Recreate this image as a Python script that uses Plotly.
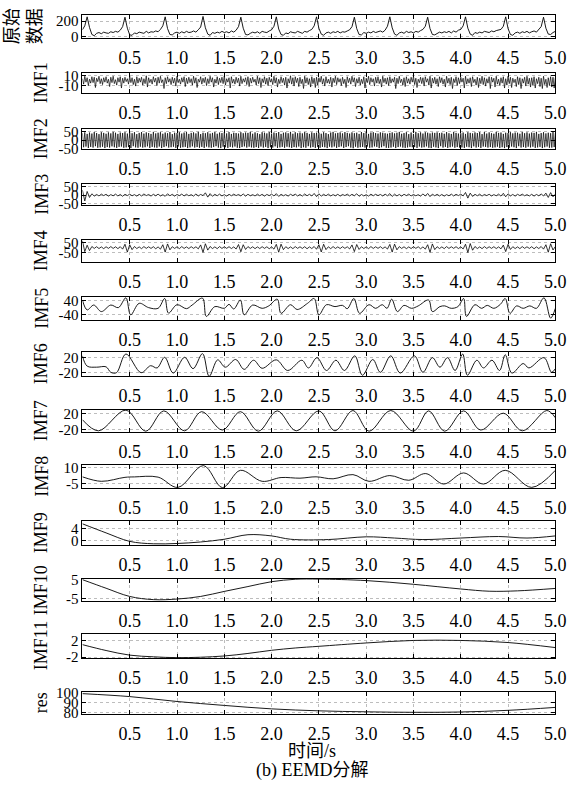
import numpy as np
import plotly.graph_objects as go

# ---------------- data ----------------
orig = [90,140,255,120,30,15,45,55,40,60, 50,45,65,55,70,60,85,130,250,110,
        25,20,50,40,60,55,45,70,50,65, 60,75,65,95,140,255,105,30,25,50,
        60,45,65,50,70,55,60,75,60,90, 125,260,115,35,20,55,45,60,50,70,
        55,65,50,75,60,85,130,250,110,30, 25,45,60,50,65,45,70,60,55,75,
        90,135,255,100,30,20,50,40,65,55, 50,70,60,45,70,60,80,95,140,255,
        110,35,20,50,60,45,65,55,70,50, 65,60,75,90,130,250,105,30,25,55,
        45,60,50,70,55,65,75,60,85,135, 255,115,35,20,50,60,45,70,55,65,
        50,70,60,80,95,135,250,105,30,25, 45,60,50,65,55,70,50,75,60,85,
        95,140,255,110,35,20,55,45,60,50, 70,60,55,75,65,80,90,95,135,255,
        105,30,20,50,60,45,65,55,70,50, 65,75,60,90,130,250,110,35,30,55,
        70]

imf1 = [4,-7,9,-3,6,-10,3,-5,8,-4,7,-14,5,-2,9,-6,4,-8,6,-3,
        8,-5,3,-12,7,-4,9,-6,2,-9,6,-3,8,-15,5,-5,7,-2,4,-7,
        9,-4,6,-8,3,-11,8,-5,5,-3,7,-9,4,-6,10,-13,6,-4,3,-7,
        8,-3,5,-10,7,-5,9,-4,2,-16,6,-6,8,-3,4,-8,7,-5,5,-11,
        9,-4,3,-7,6,-3,8,-12,5,-6,7,-4,4,-9,9,-5,6,-14,3,-3,
        8,-7,5,-4,7,-10,4,-6,9,-3,6,-13,3,-5,8,-8,5,-4,7,-6,
        10,-9,4,-3,6,-15,8,-5,3,-7,7,-4,5,-11,9,-6,4,-3,6,-8,
        8,-12,5,-5,7,-3,3,-9,9,-6,6,-14,4,-4,8,-7,5,-10,7,-3,
        4,-8,9,-5,6,-13,3,-6,8,-4,5,-9,7,-15,4,-5,10,-7,6,-11,
        8,-4,5,-12,7,-6,3,-16,9,-5,6,-8,4,-13,8,-6,5,-14,7,-9,
        6,-3,9,-7,4,-11,8,-5,3,-6,7,-13,5,-4,9,-8,6,-3,4,-10,
        7,-6,3,-14,8,-4,5,-7,9,-3,6,-12,4,-5,7,-9,3,-6,8,-15,
        5,-4,9,-8,6,-3,4,-11,7,-5,8,-6,3,-13,9,-4,5,-7,6,-10,
        8,-5,4,-3,7,-16,5,-6,9,-4,3,-9,6,-12,8,-5,4,-7,7,-3,
        9,-8,5,-14,3,-4,7,-6,6,-11,8,-3,4,-9,9,-15,5,-5,7,-7,
        4,-12,8,-4,6,-7,3,-13,9,-5,5,-8,7,-16,4,-4,8,-10,6,-6,
        7,-3,5,-15,9,-7,4,-5,6,-12,8,-4,3,-9,7,-14,5,-6,9,-8,
        6,-11,4,-5,8,-16,7,-3,5,-13,9,-7,3,-10,6,-5,8,-15,4,-9,
        9,-6,7,-14,5,-4,3,-12,8,-8,6,-16,4,-5,7,-11,9,-7,5,-13,
        6,-9,8,-15,4,-6,7,-12,5,-16,9,-8,3,-14,6,-10,8,-13,7,-15,
        6]

imf2 = [40,-42,45,-38,36,-46,44,-40,38,-44,47,-36,41,-45,35,-43,46,-39,42,-47,
        37,-41,45,-44,39,-37,48,-42,43,-46,36,-40,44,-38,41,-45,46,-43,38,-41,
        44,-47,40,-36,46,-43,35,-45,42,-39,47,-44,38,-42,45,-37,41,-46,36,-40,
        48,-43,39,-45,43,-38,46,-47,37,-41,44,-36,40,-44,47,-42,35,-39,43,-46,
        41,-38,46,-45,38,-42,44,-40,47,-47,36,-43,42,-37,45,-44,39,-41,48,-45,
        35,-40,43,-46,40,-38,46,-43,38,-45,42,-41,47,-36,37,-44,44,-47,41,-39,
        45,-42,39,-46,47,-40,36,-43,43,-38,41,-45,38,-47,46,-41,40,-37,44,-44,
        42,-39,48,-43,37,-45,45,-41,40,-46,35,-38,46,-44,43,-40,39,-47,47,-42,
        38,-44,44,-37,41,-46,47,-43,36,-40,43,-45,45,-39,40,-42,48,-46,37,-41,
        46,-43,40,-38,44,-47,39,-42,47,-45,42,-36,36,-44,45,-41,41,-46,43,-40,
        43,-45,37,-40,46,-42,41,-47,35,-39,44,-43,48,-38,39,-46,42,-41,45,-37,
        39,-46,47,-41,42,-36,38,-44,45,-48,40,-39,43,-45,36,-42,47,-40,41,-44,
        47,-38,36,-45,44,-43,46,-37,41,-40,38,-47,45,-42,43,-36,40,-45,37,-46,
        42,-44,45,-39,39,-47,43,-41,48,-38,37,-44,41,-46,46,-43,35,-40,44,-42,
        36,-41,48,-46,40,-38,45,-44,38,-42,46,-37,43,-45,39,-47,44,-39,42,-43,
        45,-47,41,-36,43,-44,37,-40,47,-46,40,-42,36,-38,48,-45,42,-41,38,-44,
        40,-43,44,-46,36,-39,46,-42,42,-47,39,-37,45,-44,41,-40,47,-46,35,-38,
        47,-40,38,-44,45,-41,40,-45,37,-43,48,-39,42,-46,44,-42,36,-47,43,-41,
        41,-45,46,-38,39,-42,44,-47,43,-36,37,-44,47,-41,40,-45,45,-39,38,-43,
        44,-39,42,-46,48,-43,36,-40,41,-47,46,-42,39,-38,43,-45,40,-44,47,-41,
        42]

imf3 = [30,-35,22,-14,8,-6,4,-5,6,-3,5,-6,3,-4,6,-5,4,-7,5,-3,
        6,-4,3,-6,5,-5,7,-3,4,-6,5,-4,6,-5,3,-7,8,-4,5,-6,
        4,-3,6,-5,5,-4,3,-6,7,-5,4,-3,14,-12,9,-7,5,-4,6,-5,
        3,-6,5,-4,6,-3,4,-5,7,-6,5,-4,3,-5,6,-4,5,-6,4,-3,
        6,-5,9,-8,5,-4,3,-6,5,-3,6,-5,4,-6,7,-4,5,-5,10,-9,
        8,-6,5,-4,6,-5,3,-4,5,-6,4,-3,6,-5,5,-4,8,-7,4,-5,
        3,-6,6,-4,5,-3,4,-5,6,-4,9,-8,6,-5,4,-6,5,-3,6,-5,
        4,-4,3,-6,7,-5,10,-9,6,-4,5,-5,4,-6,3,-4,6,-5,5,-3,
        6,-5,16,-18,12,-8,5,-4,6,-6,4,-3,5,-5,3,-4,6,-6,11,-10,
        8,-5,4,-6,5,-3,6,-4,3,-5,5,-6,4,-4,7,-5,12,-14,15,-10,
        6]

imf4 = [70,-40,25,-30,12,-8,10,-9,8,-10,9,-7,11,-8,9,-10,10,-15,35,-45,
        30,-20,12,-9,8,-10,11,-7,9,-8,10,-11,8,-15,30,-45,38,-22,10,-8,
        9,-10,11,-8,8,-9,10,-7,9,-12,28,-48,40,-25,12,-9,8,-10,11,-8,
        9,-7,10,-9,8,-14,32,-42,30,-18,11,-8,9,-10,8,-9,10,-7,9,-11,
        8,-15,34,-46,36,-20,10,-9,8,-10,11,-7,9,-8,10,-11,8,-9,12,-16,
        30,-44,35,-20,9,-10,11,-8,8,-9,10,-7,9,-13,28,-40,32,-18,10,-9,
        8,-10,11,-8,9,-7,10,-9,8,-14,33,-45,36,-22,11,-8,9,-10,8,-9,
        10,-7,9,-11,8,-15,30,-48,38,-20,10,-9,8,-10,11,-8,9,-7,10,-9,
        8,-13,35,-50,42,-26,12,-9,8,-10,11,-8,9,-7,10,-9,8,-12,26,-40,
        34,-18,10,-9,8,-10,11,-7,9,-8,10,-11,8,-9,12,-15,30,-46,40,-24,
        12]

t_imf5 = [0,0.05,0.12,0.2,0.3,0.38, 0.46,0.51,0.6,0.7,0.8, 0.87,0.91,1.0,1.1,1.16,
          1.27,1.31,1.4,1.5,1.55, 1.6,1.67,1.71,1.8,1.9, 1.97,2.06,2.1,2.2,2.27,
          2.38,2.45,2.5,2.58,2.67, 2.75,2.8,2.87,2.93,3.03, 3.1,3.17,3.22,3.27,3.33,
          3.4,3.48,3.55,3.66,3.7, 3.78,3.83,3.9,3.97,4.03, 4.06,4.15,4.22,4.28,4.35,
          4.42,4.47,4.52,4.59,4.66, 4.73,4.8,4.88,4.95,5.0]
v_imf5 = [44,-13,15,-23,15,0, 57,-42,25,0,-4, 53,-32,17,-6,15,
          55,-51,6,-4,19, -8,44,-42,15,-4, 10,49,-33,17,-11,
          25,53,-42,17,6, 13,-6,53,-33,17, -4,17,-4,49,-23,
          13,-4,10,44,-23, 6,10,-4,6,53, -51,17,-4,13,-4,
          20,53,-33,10,-4, 10,-4,57,-61,-4]

t_imf6 = [0,0.05,0.15,0.25,0.3,0.36, 0.46,0.62,0.72,0.79,0.87, 0.96,1.08,1.17,1.27,1.34,
          1.43,1.51,1.62,1.71,1.81, 1.9,2.05,2.17,2.32,2.39, 2.48,2.58,2.68,2.77,2.88,
          2.96,3.07,3.15,3.26,3.36, 3.51,3.6,3.7,3.78,3.86, 3.94,4.02,4.07,4.17,4.24,
          4.33,4.41,4.47,4.54,4.66, 4.72,4.88,4.96,5.0]
v_imf6 = [25,-3,-6,-5,-20,-21, 30,-21,-2,-8,21, -22,21,-10,31,-31,
          14,-6,15,-12,13, -9,14,-15,13,-8, 20,-15,13,-15,25,
          -28,15,-20,25,-22, 25,-20,20,-6,20, -15,30,-28,13,-8,
          13,-15,28,-22,4, -8,20,-20,-10]

t_imf7 = [0,0.17,0.46,0.67,0.86,1.08,1.26,1.48,1.67,1.86,2.06,2.26,2.5,2.67,
          2.86,3.03,3.26,3.5,3.66,3.83,4.03,4.21,4.45,4.65,4.91,5.0]
v_imf7 = [5,-24,30,-25,28,-24,26,-22,26,-25,28,-24,28,-24,
          29,-25,29,-25,28,-25,28,-22,22,-24,29,10]

t_imf8 = [0,0.2,0.45,0.55,0.8,1.01,1.28,1.48,1.67,1.9,2.1,2.3,2.47,2.65,2.86,
          3.03,3.25,3.45,3.63,3.82,4.03,4.24,4.47,4.75,5.0]
v_imf8 = [1.3,-3,0.8,1.2,1.0,-8.8,12,-9,7.5,-3,0.6,0,1.3,-0.6,3.4,
          -3,2.5,-2,4.4,-5.6,5,-5.6,7.5,-8.8,7.5]

t_imf9 = [0,0.25,0.5,0.75,1.0,1.25,1.5,1.75,2.0,2.2,2.6,3.0,3.3,3.6,4.0,4.4,4.7,5.0]
v_imf9 = [5.5,2.5,-0.3,-1.1,-1.0,-0.5,0.4,1.9,1.5,0.4,0.3,1.2,0.8,0.3,0.8,1.3,0.8,1.5]

t_imf10 = [0,0.25,0.5,0.75,1.0,1.25,1.5,1.75,2.0,2.25,2.5,3.0,3.5,4.0,4.3,4.6,5.0]
v_imf10 = [5,0.4,-4,-5.7,-5.4,-4,-1.3,1.3,3.9,5.2,5.3,4.5,2.5,0,-1.2,-1.0,0.3]

t_imf11 = [0,0.25,0.5,0.75,1.0,1.25,1.5,1.75,2.0,2.25,2.5,3.0,3.5,4.0,4.5,5.0]
v_imf11 = [1.0,-0.4,-1.5,-1.9,-2.1,-2.0,-1.7,-1.1,-0.35,0.2,0.6,1.4,2.0,2.0,1.5,0.3]

t_res = [0,0.5,1.0,1.5,2.0,2.5,3.0,3.5,4.0,4.5,5.0]
v_res = [99,96,91,87,83.5,81.5,80.5,80,80.3,82,85]

labels = ["原始<br>数据", "IMF1", "IMF2", "IMF3", "IMF4", "IMF5", "IMF6",
          "IMF7", "IMF8", "IMF9", "IMF10", "IMF11", "res"]
y_ticks = [[0, 200], [-10, 10], [-50, 0, 50], [-50, 0, 50], [-50, 50], [-40, 40],
           [-20, 20], [-20, 20], [-5, 10], [0, 4], [-5, 5], [-2, 2], [80, 90, 100]]
x_ticks = [0.5, 1.0, 1.5, 2.0, 2.5, 3.0, 3.5, 4.0, 4.5, 5.0]

# ---------------- layout (pixel geometry) ----------------
W, H = 585, 792
X0, X1 = 84, 566
rows = [(8, 32), (67, 88), (124, 145), (180, 202), (237, 260), (295, 319), (351, 376),
        (410, 433), (466, 490), (523, 548), (582, 605), (638, 663), (697, 720)]
y_ranges = [[-20, 280], [-26, 16], [-55, 66], [-62, 68], [-150, 80], [-74, 63],
            [-31, 36], [-28, 31], [-9.7, 12.8], [-1.6, 6.5], [-6.6, 5.5], [-2.25, 3.6], [78, 101]]


def grid(vals):
    return np.linspace(0, 5, len(vals))


series = [
    (grid(orig), orig, "linear", 0.9),
    (grid(imf1), imf1, "linear", 0.7),
    (grid(imf2), imf2, "linear", 0.7),
    (grid(imf3), imf3, "linear", 0.8),
    (grid(imf4), imf4, "linear", 0.8),
    (t_imf5, v_imf5, "spline", 0.9),
    (t_imf6, v_imf6, "spline", 0.9),
    (t_imf7, v_imf7, "spline", 0.9),
    (t_imf8, v_imf8, "spline", 0.9),
    (t_imf9, v_imf9, "spline", 0.9),
    (t_imf10, v_imf10, "spline", 0.9),
    (t_imf11, v_imf11, "spline", 0.9),
    (t_res, v_res, "spline", 0.9),
]

SERIF = "Liberation Serif, Times New Roman, Noto Sans CJK SC, serif"
fig = go.Figure()
layout = dict(width=W, height=H, margin=dict(l=0, r=0, t=0, b=0),
              paper_bgcolor="white", plot_bgcolor="white", showlegend=False,
              font=dict(family=SERIF, color="black"))
annotations = []

for i, ((tx, ty, shape, lw), (top, bot)) in enumerate(zip(series, rows)):
    n = "" if i == 0 else str(i + 1)
    fig.add_trace(go.Scatter(x=tx, y=ty, mode="lines", xaxis="x" + n, yaxis="y" + n,
                             line=dict(color="black", width=lw, shape=shape),
                             hoverinfo="skip"))
    layout["xaxis" + n] = dict(
        domain=[X0 / W, X1 / W], anchor="y" + n, range=[0, 5],
        tickvals=x_ticks, ticktext=[f"{v:.1f}" for v in x_ticks],
        ticks="inside", ticklen=4, tickcolor="black", ticklabelstandoff=3,
        showline=True, linecolor="black", linewidth=1, mirror="ticks",
        showgrid=True, gridcolor="#bdbdbd", griddash="dot", gridwidth=1,
        zeroline=False, tickfont=dict(size=18, family=SERIF, color="black"))
    layout["yaxis" + n] = dict(
        domain=[1 - bot / H, 1 - top / H], anchor="x" + n, range=y_ranges[i],
        tickvals=y_ticks[i], ticktext=[str(v) for v in y_ticks[i]],
        ticks="inside", ticklen=4, tickcolor="black",
        showline=True, linecolor="black", linewidth=1, mirror="ticks",
        showgrid=True, gridcolor="#bdbdbd", griddash="dot", gridwidth=1,
        zeroline=False, tickfont=dict(size=15, family=SERIF, color="black"))
    annotations.append(dict(
        text=labels[i], xref="paper", yref="paper",
        x=(24 if i == 0 else 42) / W, y=1 - (top + bot) / 2 / H,
        xanchor="center", yanchor="middle", textangle=-90, showarrow=False,
        font=dict(size=18, family=SERIF, color="black")))

annotations.append(dict(text="时间/s", xref="paper", yref="paper", x=318 / W, y=1 - 757 / H,
                        xanchor="center", yanchor="middle", showarrow=False,
                        font=dict(size=18, family=SERIF, color="black")))
annotations.append(dict(text="(b) EEMD分解", xref="paper", yref="paper", x=318 / W, y=1 - 777 / H,
                        xanchor="center", yanchor="middle", showarrow=False,
                        font=dict(size=18, family=SERIF, color="black")))
layout["annotations"] = annotations
fig.update_layout(**layout)
fig.write_html("out.html", config={"displayModeBar": False},
               post_script="document.body.style.margin='0';")
